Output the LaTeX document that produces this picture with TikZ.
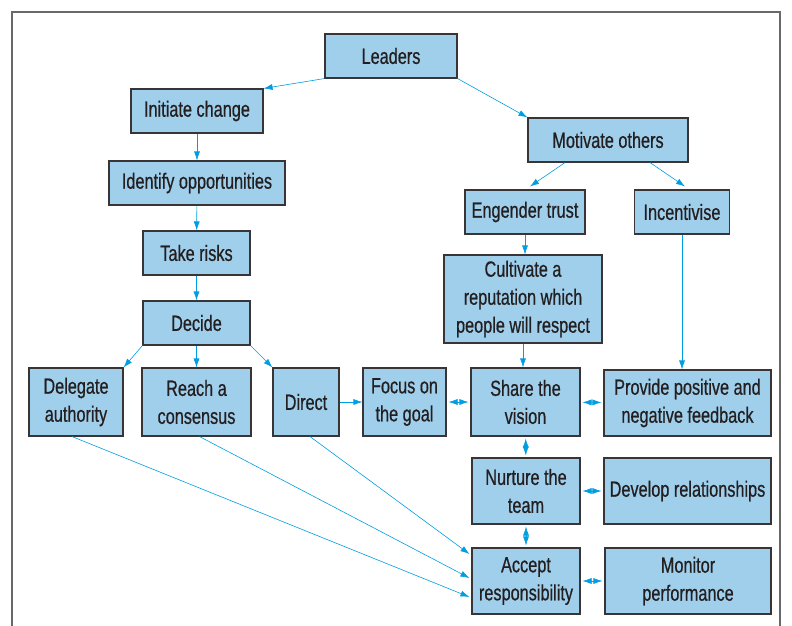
\documentclass[tikz,border=0pt]{standalone}
\usepackage{fontspec}
\setmainfont{Liberation Sans}[FakeStretch=0.74,FakeBold=0.6]
\usetikzlibrary{arrows.meta,calc}

\definecolor{BoxBlue}{RGB}{160,207,236}
\definecolor{LinkCyan}{RGB}{0,157,224}
\definecolor{FrameGrey}{RGB}{105,105,105}
\definecolor{InkDark}{RGB}{35,31,32}

\begin{document}
\begin{tikzpicture}[x=1pt, y=-1pt,
    box/.style={draw=InkDark!90, line width=1.1pt, fill=BoxBlue, text=InkDark, align=center,
                inner sep=0pt, font=\fontsize{22}{28}\selectfont},
    link/.style={LinkCyan, line width=0.6pt, -{Latex[length=9pt,width=6pt]}},
    both/.style={LinkCyan, line width=0.6pt, {Latex[length=9pt,width=6pt]}-{Latex[length=9pt,width=6pt]}, shorten <=2pt, shorten >=2pt}]
                \useasboundingbox (0,0) rectangle (792,626);
                % Frame
                \draw[FrameGrey, line width=1.4pt] (12,626) -- (12,12) -- (780,12) -- (780,626);

                % Top
                \node[box, minimum width=132, minimum height=44] (lead) at (391,56) {Leaders};
                \node[box, minimum width=132, minimum height=44] (init) at (197,111) {Initiate change};
                \node[box, minimum width=160, minimum height=44] (motiv) at (608,140) {Motivate others};

                % Left branch
                \node[box, minimum width=176, minimum height=44] (ident) at (197,183) {Identify opportunities};
                \node[box, minimum width=107, minimum height=44] (risks) at (196.5,253) {Take risks};
                \node[box, minimum width=107, minimum height=44] (decide) at (196.5,323) {Decide};
                \node[box, minimum width=94, minimum height=68] (deleg) at (76,402) {Delegate\\authority};
                \node[box, minimum width=109, minimum height=68] (reach) at (196.5,402) {Reach a\\consensus};
                \node[box, minimum width=66, minimum height=68] (direct) at (306,402) {Direct};

                % Right branch
                \node[box, minimum width=120, minimum height=44] (trust) at (525,212) {Engender trust};
                \node[box, minimum width=95, minimum height=44] (incent) at (682,212) {Incentivise};
                \node[box, minimum width=158, minimum height=88] (cult) at (523,299) {Cultivate a\\reputation which\\people will respect};

                % Middle row
                \node[box, minimum width=83, minimum height=68] (focus) at (404.5,402) {Focus on\\the goal};
                \node[box, minimum width=109, minimum height=68] (share) at (525.5,402) {Share the\\vision};
                \node[box, minimum width=167, minimum height=66] (provide) at (687.5,403) {Provide positive and\\negative feedback};

                % Bottom rows
                \node[box, minimum width=108, minimum height=66] (nurture) at (526,491) {Nurture the\\team};
                \node[box, minimum width=167, minimum height=66] (develop) at (687.5,491) {Develop relationships};
                \node[box, minimum width=108, minimum height=66] (accept) at (526,581) {Accept\\responsibility};
                \node[box, minimum width=166, minimum height=66] (monitor) at (688,581) {Monitor\\performance};

                % Arrows from the top
                \draw[link] (lead.south west) -- (init.north east);
                \draw[link] (lead.south east) -- (motiv.north west);
                \draw[link] (init) -- (ident);
                \draw[link] (ident) -- (risks);
                \draw[link] (risks) -- (decide);
                \draw[link] (decide.south west) -- (deleg.north east);
                \draw[link] (decide) -- (reach);
                \draw[link] (decide.south east) -- (direct.north west);
                \draw[link] (direct) -- (focus);

                \draw[link] ($(motiv.south)+(-43,0)$) -- ($(trust.north)+(5,-3)$);
                \draw[link] ($(motiv.south)+(42,0)$) -- ($(incent.north)+(3,-3)$);
                \draw[link] (trust) -- (trust |- cult.north);
                \draw[link] (cult) -- (cult |- share.north);
                \draw[link] (incent) -- (incent |- provide.north);

                % Two-way links
                \draw[both] (focus) -- (share);
                \draw[both] (share) -- (provide);
                \draw[both] (share) -- (nurture);
                \draw[both] (nurture) -- (develop);
                \draw[both] (nurture) -- (accept);
                \draw[both] (accept) -- (monitor);

                % Into Accept responsibility
                \draw[link] ($(deleg.south)+(-4,0)$) -- ($(accept.west)+(-2,16)$);
                \draw[link] ($(reach.south)+(3,0)$) -- ($(accept.west)+(-2,-3)$);
                \draw[link] ($(direct.south)+(4,0)$) -- ($(accept.west)+(-2,-27)$);
\end{tikzpicture}
\end{document}
